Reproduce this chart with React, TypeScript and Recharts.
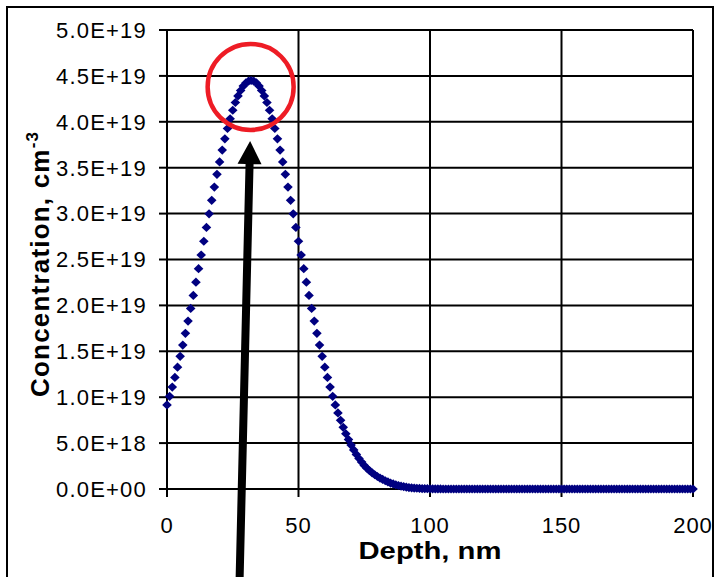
import React from 'react';
import { ScatterChart, Scatter, XAxis, YAxis, CartesianGrid, ReferenceDot } from 'recharts';

// Implant profile sampled every 1 nm, concentration in units of 1E+19 cm^-3
const DEPTH_STEP_NM = 1;
const CONC_UNIT = 1e19;

const concentration: number[] = [
  0.916, 1.010, 1.110, 1.215, 1.327, 1.445, 1.568, 1.696, 1.829, 1.967,
  2.109, 2.253, 2.400, 2.549, 2.699, 2.849, 2.998, 3.145, 3.289, 3.428,
  3.563, 3.692, 3.814, 3.927, 4.032, 4.126, 4.210, 4.282, 4.341, 4.389,
  4.423, 4.443, 4.450, 4.443, 4.423, 4.389, 4.341, 4.282, 4.210, 4.126,
  4.032, 3.927, 3.814, 3.692, 3.563, 3.428, 3.289, 3.145, 2.998, 2.849,
  2.699, 2.549, 2.400, 2.253, 2.109, 1.967, 1.829, 1.696, 1.568, 1.445,
  1.327, 1.215, 1.110, 1.010, 0.916, 0.829, 0.748, 0.672, 0.602, 0.538,
  0.479, 0.426, 0.377, 0.332, 0.293, 0.257, 0.226, 0.200, 0.176, 0.155,
  0.136, 0.119, 0.104, 0.090, 0.077, 0.065, 0.055, 0.046, 0.038, 0.031,
  0.025, 0.020, 0.016, 0.013, 0.010, 0.008, 0.006, 0.005, 0.004, 0.003,
  0.002, 0.002, 0.001, 0.001, 0.001, 0, 0, 0, 0, 0,
  0, 0, 0, 0, 0, 0, 0, 0, 0, 0,
  0, 0, 0, 0, 0, 0, 0, 0, 0, 0,
  0, 0, 0, 0, 0, 0, 0, 0, 0, 0,
  0, 0, 0, 0, 0, 0, 0, 0, 0, 0,
  0, 0, 0, 0, 0, 0, 0, 0, 0, 0,
  0, 0, 0, 0, 0, 0, 0, 0, 0, 0,
  0, 0, 0, 0, 0, 0, 0, 0, 0, 0,
  0, 0, 0, 0, 0, 0, 0, 0, 0, 0,
  0, 0, 0, 0, 0, 0, 0, 0, 0, 0,
  0,
];

const depthTicks = [0, 50, 100, 150, 200];
const concTicks = [0, 0.5, 1, 1.5, 2, 2.5, 3, 3.5, 4, 4.5, 5];

// Annotations: circle around the peak and the arrow pointing at it
const peakCircle = { depth: 31.8, conc: 4.38 };
const arrowTip = { depth: 31.6, conc: 3.79 };

const data = concentration.map((c, i) => ({ depth: i * DEPTH_STEP_NM, conc: c }));

const FONT = '"Liberation Sans", Arial, Helvetica, sans-serif';
const NAVY = '#000080';

const formatSci = (v: number) => {
  const [mant, exp] = (v * CONC_UNIT).toExponential(1).split('e');
  const sign = exp[0];
  const digits = exp.slice(1).padStart(2, '0');
  return `${mant}E${sign}${digits}`;
};

const Diamond = (props: any) => {
  const { cx, cy } = props;
  if (cx == null || cy == null) return null;
  const w = 4.8;
  const h = 4.6;
  return (
    <path
      d={`M${cx},${cy - h}L${cx + w},${cy}L${cx},${cy + h}L${cx - w},${cy}Z`}
      fill={NAVY}
    />
  );
};

const PeakCircle = (props: any) => {
  const { cx, cy } = props;
  return <circle cx={cx} cy={cy} r={43} fill="none" stroke="#ee1c25" strokeWidth={4.5} />;
};

const Arrow = (props: any) => {
  const { cx, cy } = props;
  // shaft runs down and slightly left, past the bottom of the figure
  const len = 460;
  const ux = -0.024;
  const uy = 0.9997;
  const px = uy;
  const py = -ux;
  const headLen = 23;
  const headHalf = 12;
  const shaftHalf = 4;
  const bx = cx + ux * headLen;
  const by = cy + uy * headLen;
  const ex = cx + ux * len;
  const ey = cy + uy * len;
  const pts = [
    [cx, cy],
    [bx + px * headHalf, by + py * headHalf],
    [bx + px * shaftHalf, by + py * shaftHalf],
    [ex + px * shaftHalf, ey + py * shaftHalf],
    [ex - px * shaftHalf, ey - py * shaftHalf],
    [bx - px * shaftHalf, by - py * shaftHalf],
    [bx - px * headHalf, by - py * headHalf],
  ];
  return <polygon points={pts.map((p) => p.join(',')).join(' ')} fill="#000" />;
};

const YTitle = () => {
  const x = 49;
  const y = 397;
  return (
    <text
      x={x}
      y={y}
      transform={`rotate(-90 ${x} ${y})`}
      fontFamily={FONT}
      fontWeight="bold"
      fontSize={26}
      letterSpacing={1.2}
      fill="#000"
    >
      Concentration, cm
      <tspan dy={-11} fontSize={17}>-3</tspan>
    </text>
  );
};

const XTitle = (props: any) => {
  const vb = props.viewBox || { x: 167, width: 526, y: 489 };
  return (
    <text
      x={vb.x + vb.width / 2}
      y={559}
      textAnchor="middle"
      fontFamily={FONT}
      fontWeight="bold"
      fontSize={23}
      textLength={143}
      lengthAdjust="spacingAndGlyphs"
      fill="#000"
    >
      Depth, nm
    </text>
  );
};

export default function App() {
  return (
    <div
      style={{
        position: 'absolute',
        left: 0,
        top: 0,
        width: 717,
        height: 577,
        overflow: 'hidden',
        background: '#fff',
      }}
    >
      <div
        style={{
          position: 'absolute',
          left: 6,
          top: 6,
          width: 708,
          height: 640,
          boxSizing: 'border-box',
          border: '2px solid #000',
          borderBottom: 'none',
        }}
      />
      <div style={{ position: 'absolute', left: 0, top: 0 }}>
        <ScatterChart
          width={717}
          height={577}
          margin={{ top: 30, right: 24, bottom: 28, left: 0 }}
        >
          <CartesianGrid stroke="#000" strokeWidth={2} />
          <XAxis
            type="number"
            dataKey="depth"
            domain={[0, 200]}
            ticks={depthTicks}
            interval={0}
            height={60}
            tickSize={8}
            tickMargin={20}
            axisLine={{ stroke: '#000', strokeWidth: 2 }}
            tickLine={{ stroke: '#000', strokeWidth: 2 }}
            tick={{ fill: '#000', fontSize: 22, fontFamily: FONT, letterSpacing: 1 }}
            label={{ content: (p: any) => <XTitle {...p} /> }}
          />
          <YAxis
            type="number"
            dataKey="conc"
            domain={[0, 5]}
            ticks={concTicks}
            interval={0}
            width={167}
            tickSize={8}
            tickMargin={12}
            tickFormatter={formatSci}
            axisLine={{ stroke: '#000', strokeWidth: 2 }}
            tickLine={{ stroke: '#000', strokeWidth: 2 }}
            tick={{ fill: '#000', fontSize: 22, fontFamily: FONT, letterSpacing: 1.2 }}
            label={{ content: () => <YTitle /> }}
          />
          <Scatter data={data} shape={<Diamond />} isAnimationActive={false} />
          <ReferenceDot
            x={peakCircle.depth}
            y={peakCircle.conc}
            ifOverflow="visible"
            shape={(p: any) => <PeakCircle {...p} />}
          />
          <ReferenceDot
            x={arrowTip.depth}
            y={arrowTip.conc}
            ifOverflow="visible"
            shape={(p: any) => <Arrow {...p} />}
          />
        </ScatterChart>
      </div>
    </div>
  );
}
